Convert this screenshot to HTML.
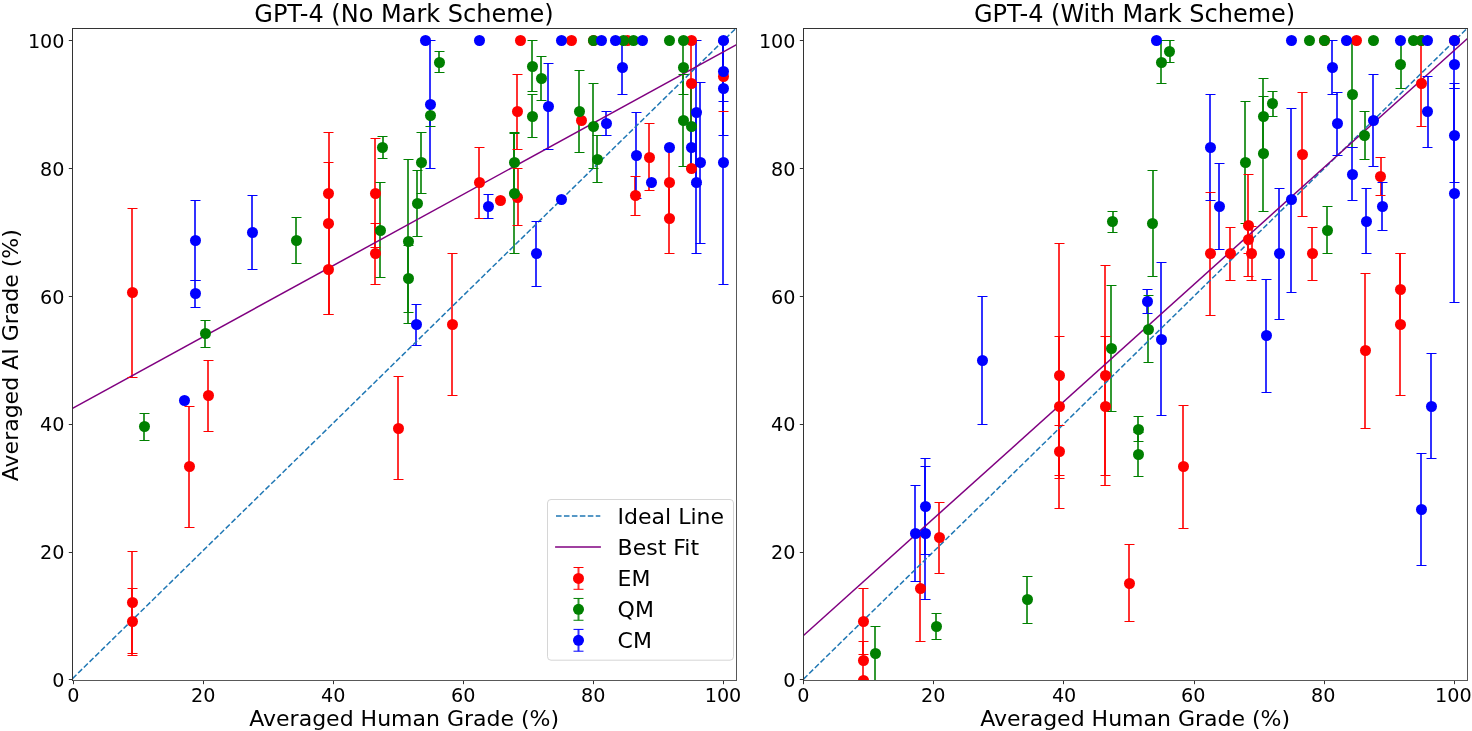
<!DOCTYPE html>
<html lang="en"><head><meta charset="utf-8"><title>GPT-4 grading comparison</title>
<style>html,body{margin:0;padding:0;background:#fff}body{width:1472px;height:731px;overflow:hidden}svg{display:block}</style>
</head><body>
<svg width="1472" height="731" viewBox="0 0 1472 731" font-family="'DejaVu Sans', 'Liberation Sans', sans-serif" fill="#000">
<rect width="1472" height="731" fill="#fff"/>
<clipPath id="clipL"><rect x="72.5" y="28.5" width="664" height="652"/></clipPath>
<g clip-path="url(#clipL)">
<g stroke="#ff0000" stroke-width="2" stroke-opacity="0.8" fill="none"><path d="M132 208V377"/><path d="M132 551V653"/><path d="M132 588V656"/><path d="M189 406V528"/><path d="M208 361V431"/><path d="M329 162V225"/><path d="M329 132V314"/><path d="M329 225V314"/><path d="M375 138V247"/><path d="M375 223V284"/><path d="M398 376V480"/><path d="M452 253V395"/><path d="M479 147V218"/><path d="M517 74V149"/><path d="M518 169V226"/><path d="M635 176V216"/><path d="M649 124V191"/><path d="M669 147V218"/><path d="M669 184V253"/><path d="M691 40V126"/><path d="M723 42V111"/></g>
<g stroke="#008000" stroke-width="2" stroke-opacity="0.8" fill="none"><path d="M144 413V441"/><path d="M205 320V348"/><path d="M296 217V263"/><path d="M380 183V278"/><path d="M383 136V158"/><path d="M408 159V323"/><path d="M408 245V312"/><path d="M417 170V236"/><path d="M421 132V193"/><path d="M430 105V126"/><path d="M439 52V73"/><path d="M514 132V192"/><path d="M514 133V253"/><path d="M532 40V92"/><path d="M532 95V138"/><path d="M541 57V100"/><path d="M579 71V152"/><path d="M593 83V169"/><path d="M597 136V183"/><path d="M683 40V94"/><path d="M683 74V166"/><path d="M691 83V169"/></g>
<g stroke="#0000ff" stroke-width="2" stroke-opacity="0.8" fill="none"><path d="M195 201V281"/><path d="M195 280V307"/><path d="M252 195V269"/><path d="M416 304V345"/><path d="M430 40V168"/><path d="M488 194V218"/><path d="M536 221V286"/><path d="M548 64V150"/><path d="M606 111V135"/><path d="M622 40V94"/><path d="M636 112V198"/><path d="M691 126V168"/><path d="M696 40V184"/><path d="M696 112V253"/><path d="M700 82V243"/><path d="M723 42V101"/><path d="M723 41V135"/><path d="M723 40V284"/></g>
<path d="M72.5 678.6L737 27.3" stroke="#1f77b4" stroke-width="1.5" stroke-dasharray="5.55 2.4" fill="none"/>
<path d="M72.5 408.4L736.6 44.6" stroke="#800080" stroke-width="1.5" fill="none"/>
<path d="M127.5 208.5h10M127.5 377.5h10M127.5 551.5h10M127.5 653.5h10M127.5 588.5h10M127.5 655.5h10M184.5 406.5h10M184.5 527.5h10M203.5 360.5h10M203.5 431.5h10M323.5 162.5h10M323.5 224.5h10M323.5 132.5h10M323.5 314.5h10M323.5 224.5h10M323.5 314.5h10M370.5 138.5h10M370.5 247.5h10M370.5 223.5h10M370.5 284.5h10M393.5 376.5h10M393.5 479.5h10M447.5 253.5h10M447.5 395.5h10M474.5 147.5h10M474.5 218.5h10M512.5 74.5h10M512.5 149.5h10M512.5 168.5h10M512.5 225.5h10M630.5 176.5h10M630.5 215.5h10M644.5 123.5h10M644.5 190.5h10M664.5 147.5h10M664.5 217.5h10M664.5 183.5h10M664.5 253.5h10M686.5 40.5h10M686.5 126.5h10M718.5 42.5h10M718.5 111.5h10" stroke="#ff0000" stroke-width="1" fill="none"/>
<path d="M139.5 413.5h10M139.5 440.5h10M200.5 320.5h10M200.5 347.5h10M291.5 217.5h10M291.5 263.5h10M375.5 182.5h10M375.5 277.5h10M377.5 136.5h10M377.5 158.5h10M403.5 159.5h10M403.5 323.5h10M403.5 245.5h10M403.5 312.5h10M412.5 170.5h10M412.5 236.5h10M416.5 132.5h10M416.5 193.5h10M425.5 104.5h10M425.5 126.5h10M434.5 51.5h10M434.5 72.5h10M509.5 132.5h10M509.5 192.5h10M509.5 133.5h10M509.5 253.5h10M527.5 40.5h10M527.5 91.5h10M527.5 94.5h10M527.5 137.5h10M536.5 56.5h10M536.5 100.5h10M574.5 70.5h10M574.5 152.5h10M588.5 83.5h10M588.5 168.5h10M592.5 135.5h10M592.5 182.5h10M678.5 40.5h10M678.5 94.5h10M678.5 74.5h10M678.5 166.5h10M686.5 83.5h10M686.5 169.5h10" stroke="#008000" stroke-width="1" fill="none"/>
<path d="M190.5 200.5h10M190.5 280.5h10M190.5 280.5h10M190.5 307.5h10M247.5 195.5h10M247.5 269.5h10M411.5 304.5h10M411.5 345.5h10M425.5 40.5h10M425.5 168.5h10M483.5 194.5h10M483.5 218.5h10M531.5 221.5h10M531.5 286.5h10M543.5 63.5h10M543.5 149.5h10M601.5 111.5h10M601.5 135.5h10M617.5 40.5h10M617.5 94.5h10M631.5 112.5h10M631.5 198.5h10M686.5 126.5h10M686.5 168.5h10M691.5 40.5h10M691.5 184.5h10M691.5 111.5h10M691.5 253.5h10M695.5 82.5h10M695.5 243.5h10M718.5 41.5h10M718.5 101.5h10M718.5 41.5h10M718.5 135.5h10M718.5 40.5h10M718.5 284.5h10" stroke="#0000ff" stroke-width="1" fill="none"/>
<g fill="#ff0000"><circle cx="132.5" cy="292.5" r="5.5"/><circle cx="132.5" cy="602.5" r="5.5"/><circle cx="132.5" cy="621.5" r="5.5"/><circle cx="189.5" cy="466.5" r="5.5"/><circle cx="208.5" cy="395.5" r="5.5"/><circle cx="328.5" cy="193.5" r="5.5"/><circle cx="328.5" cy="223.5" r="5.5"/><circle cx="328.5" cy="269.5" r="5.5"/><circle cx="375.5" cy="193.5" r="5.5"/><circle cx="375.5" cy="253.5" r="5.5"/><circle cx="398.5" cy="428.5" r="5.5"/><circle cx="452.5" cy="324.5" r="5.5"/><circle cx="479.5" cy="182.5" r="5.5"/><circle cx="500.5" cy="200.5" r="5.5"/><circle cx="517.5" cy="111.5" r="5.5"/><circle cx="517.5" cy="197.5" r="5.5"/><circle cx="520.5" cy="40.5" r="5.5"/><circle cx="571.5" cy="40.5" r="5.5"/><circle cx="581.5" cy="120.5" r="5.5"/><circle cx="593.5" cy="40.5" r="5.5"/><circle cx="627.5" cy="40.5" r="5.5"/><circle cx="635.5" cy="195.5" r="5.5"/><circle cx="649.5" cy="157.5" r="5.5"/><circle cx="669.5" cy="182.5" r="5.5"/><circle cx="669.5" cy="218.5" r="5.5"/><circle cx="691.5" cy="40.5" r="5.5"/><circle cx="691.5" cy="83.5" r="5.5"/><circle cx="691.5" cy="168.5" r="5.5"/><circle cx="723.5" cy="76.5" r="5.5"/></g>
<g fill="#008000"><circle cx="144.5" cy="426.5" r="5.5"/><circle cx="205.5" cy="333.5" r="5.5"/><circle cx="296.5" cy="240.5" r="5.5"/><circle cx="380.5" cy="230.5" r="5.5"/><circle cx="382.5" cy="147.5" r="5.5"/><circle cx="408.5" cy="241.5" r="5.5"/><circle cx="408.5" cy="278.5" r="5.5"/><circle cx="417.5" cy="203.5" r="5.5"/><circle cx="421.5" cy="162.5" r="5.5"/><circle cx="430.5" cy="115.5" r="5.5"/><circle cx="439.5" cy="62.5" r="5.5"/><circle cx="514.5" cy="162.5" r="5.5"/><circle cx="514.5" cy="193.5" r="5.5"/><circle cx="532.5" cy="66.5" r="5.5"/><circle cx="532.5" cy="116.5" r="5.5"/><circle cx="541.5" cy="78.5" r="5.5"/><circle cx="579.5" cy="111.5" r="5.5"/><circle cx="593.5" cy="126.5" r="5.5"/><circle cx="597.5" cy="159.5" r="5.5"/><circle cx="593.5" cy="40.5" r="5.5"/><circle cx="623.5" cy="40.5" r="5.5"/><circle cx="633.5" cy="40.5" r="5.5"/><circle cx="669.5" cy="40.5" r="5.5"/><circle cx="683.5" cy="40.5" r="5.5"/><circle cx="683.5" cy="67.5" r="5.5"/><circle cx="683.5" cy="120.5" r="5.5"/><circle cx="691.5" cy="126.5" r="5.5"/></g>
<g fill="#0000ff"><circle cx="184.5" cy="400.5" r="5.5"/><circle cx="195.5" cy="240.5" r="5.5"/><circle cx="195.5" cy="293.5" r="5.5"/><circle cx="252.5" cy="232.5" r="5.5"/><circle cx="416.5" cy="324.5" r="5.5"/><circle cx="425.5" cy="40.5" r="5.5"/><circle cx="430.5" cy="104.5" r="5.5"/><circle cx="479.5" cy="40.5" r="5.5"/><circle cx="488.5" cy="206.5" r="5.5"/><circle cx="536.5" cy="253.5" r="5.5"/><circle cx="548.5" cy="106.5" r="5.5"/><circle cx="561.5" cy="40.5" r="5.5"/><circle cx="561.5" cy="199.5" r="5.5"/><circle cx="601.5" cy="40.5" r="5.5"/><circle cx="606.5" cy="123.5" r="5.5"/><circle cx="615.5" cy="40.5" r="5.5"/><circle cx="622.5" cy="67.5" r="5.5"/><circle cx="636.5" cy="155.5" r="5.5"/><circle cx="642.5" cy="40.5" r="5.5"/><circle cx="651.5" cy="182.5" r="5.5"/><circle cx="669.5" cy="147.5" r="5.5"/><circle cx="691.5" cy="147.5" r="5.5"/><circle cx="696.5" cy="112.5" r="5.5"/><circle cx="696.5" cy="182.5" r="5.5"/><circle cx="700.5" cy="162.5" r="5.5"/><circle cx="723.5" cy="40.5" r="5.5"/><circle cx="723.5" cy="71.5" r="5.5"/><circle cx="723.5" cy="88.5" r="5.5"/><circle cx="723.5" cy="162.5" r="5.5"/></g>
</g>
<path d="M73.5 680.5v3.7M72.5 679.5h-3.7M203.5 680.5v3.7M72.5 552.5h-3.7M333.5 680.5v3.7M72.5 424.5h-3.7M463.5 680.5v3.7M72.5 296.5h-3.7M593.5 680.5v3.7M72.5 168.5h-3.7M723.5 680.5v3.7M72.5 40.5h-3.7" stroke="#333" stroke-width="1" fill="none"/>
<path d="M72.5 28V681M72 28.5H737" stroke="#333" stroke-width="1" fill="none"/>
<path d="M736.5 29V681M73 680.5H737" stroke="#585858" stroke-width="1" fill="none"/>
<text x="73.3" y="702" text-anchor="middle" font-size="19.2">0</text>
<text x="64.5" y="687.05" text-anchor="end" font-size="19.2">0</text>
<text x="203.3" y="702" text-anchor="middle" font-size="19.2">20</text>
<text x="64.5" y="559" text-anchor="end" font-size="19.2">20</text>
<text x="333.3" y="702" text-anchor="middle" font-size="19.2">40</text>
<text x="64.5" y="431" text-anchor="end" font-size="19.2">40</text>
<text x="463.3" y="702" text-anchor="middle" font-size="19.2">60</text>
<text x="64.5" y="304.05" text-anchor="end" font-size="19.2">60</text>
<text x="593.3" y="702" text-anchor="middle" font-size="19.2">80</text>
<text x="64.5" y="176.1" text-anchor="end" font-size="19.2">80</text>
<text x="723" y="702" text-anchor="middle" font-size="19.2">100</text>
<text x="64.5" y="48.1" text-anchor="end" font-size="19.2">100</text>
<text x="404" y="22" text-anchor="middle" font-size="24">GPT-4 (No Mark Scheme)</text>
<text x="404.2" y="726" text-anchor="middle" font-size="22">Averaged Human Grade (%)</text>
<rect x="547.5" y="499.5" width="186.0" height="160.7" rx="3.5" ry="3.5" fill="#fff" fill-opacity="0.8" stroke="#ccc" stroke-opacity="0.8" stroke-width="1"/>
<path d="M556 516h44.3" stroke="#1f77b4" stroke-width="1.5" stroke-dasharray="5.55 2.4" fill="none"/>
<path d="M555.1 546.9h45.8" stroke="#800080" stroke-width="1.5" fill="none"/>
<path d="M578.5 567.5V589.3" stroke="#ff0000" stroke-width="2" stroke-opacity="0.8" fill="none"/>
<circle cx="578.5" cy="578.4" r="5.5" fill="#ff0000"/>
<path d="M573.5 567.5h10M573.5 589.3h10" stroke="#ff0000" stroke-width="1" fill="none"/>
<text x="617.6" y="586.0" font-size="22">EM</text>
<path d="M578.5 598.45V620.25" stroke="#008000" stroke-width="2" stroke-opacity="0.8" fill="none"/>
<circle cx="578.5" cy="609.35" r="5.5" fill="#008000"/>
<path d="M573.5 598.45h10M573.5 620.25h10" stroke="#008000" stroke-width="1" fill="none"/>
<text x="617.6" y="617.0" font-size="22">QM</text>
<path d="M578.5 629.4V651.1999999999999" stroke="#0000ff" stroke-width="2" stroke-opacity="0.8" fill="none"/>
<circle cx="578.5" cy="640.3" r="5.5" fill="#0000ff"/>
<path d="M573.5 629.4h10M573.5 651.1999999999999h10" stroke="#0000ff" stroke-width="1" fill="none"/>
<text x="617.6" y="647.9" font-size="22">CM</text>
<text x="617.6" y="524.1" font-size="22">Ideal Line</text>
<text x="617.6" y="554.6" font-size="22">Best Fit</text>
<clipPath id="clipR"><rect x="803.5" y="28.5" width="664" height="652"/></clipPath>
<g clip-path="url(#clipR)">
<g stroke="#ff0000" stroke-width="2" stroke-opacity="0.8" fill="none"><path d="M863 588V655"/><path d="M863 641V679"/><path d="M920 535V641"/><path d="M939 503V573"/><path d="M1059 243V509"/><path d="M1059 336V476"/><path d="M1059 425V478"/><path d="M1105 266V485"/><path d="M1105 336V475"/><path d="M1129 545V621"/><path d="M1183 405V528"/><path d="M1210 193V316"/><path d="M1230 227V280"/><path d="M1248 174V276"/><path d="M1248 225V253"/><path d="M1252 227V280"/><path d="M1302 93V216"/><path d="M1312 227V280"/><path d="M1365 273V428"/><path d="M1381 157V195"/><path d="M1400 253V325"/><path d="M1400 254V395"/><path d="M1421 41V126"/></g>
<g stroke="#008000" stroke-width="2" stroke-opacity="0.8" fill="none"><path d="M875 626V680"/><path d="M936 613V639"/><path d="M1027 576V623"/><path d="M1111 285V411"/><path d="M1113 211V232"/><path d="M1138 416V441"/><path d="M1138 432V476"/><path d="M1148 295V362"/><path d="M1153 170V276"/><path d="M1161 41V84"/><path d="M1170 40V62"/><path d="M1245 102V223"/><path d="M1263 78V155"/><path d="M1263 96V211"/><path d="M1273 91V116"/><path d="M1327 207V253"/><path d="M1352 41V148"/><path d="M1365 111V159"/><path d="M1401 40V89"/></g>
<g stroke="#0000ff" stroke-width="2" stroke-opacity="0.8" fill="none"><path d="M915 485V581"/><path d="M925 458V554"/><path d="M925 466V600"/><path d="M982 296V424"/><path d="M1147 290V313"/><path d="M1161 263V415"/><path d="M1210 95V200"/><path d="M1219 163V249"/><path d="M1266 279V392"/><path d="M1279 189V320"/><path d="M1291 108V293"/><path d="M1332 41V95"/><path d="M1337 92V155"/><path d="M1352 147V200"/><path d="M1366 189V253"/><path d="M1373 74V166"/><path d="M1382 182V230"/><path d="M1421 453V565"/><path d="M1428 77V147"/><path d="M1431 353V459"/><path d="M1454 40V88"/><path d="M1454 88V182"/><path d="M1454 84V302"/></g>
<path d="M803.5 679.1L1468 27.5" stroke="#1f77b4" stroke-width="1.5" stroke-dasharray="5.55 2.4" fill="none"/>
<path d="M803.5 635.5L1467.5 38.5" stroke="#800080" stroke-width="1.5" fill="none"/>
<path d="M858.5 588.5h10M858.5 654.5h10M858.5 641.5h10M858.5 679.5h10M915.5 535.5h10M915.5 641.5h10M934.5 502.5h10M934.5 573.5h10M1054.5 243.5h10M1054.5 508.5h10M1054.5 336.5h10M1054.5 475.5h10M1054.5 425.5h10M1054.5 478.5h10M1100.5 265.5h10M1100.5 485.5h10M1100.5 336.5h10M1100.5 475.5h10M1124.5 544.5h10M1124.5 621.5h10M1178.5 405.5h10M1178.5 528.5h10M1205.5 192.5h10M1205.5 315.5h10M1225.5 227.5h10M1225.5 280.5h10M1243.5 174.5h10M1243.5 276.5h10M1243.5 225.5h10M1243.5 253.5h10M1246.5 226.5h10M1246.5 280.5h10M1297.5 92.5h10M1297.5 216.5h10M1307.5 227.5h10M1307.5 280.5h10M1360.5 273.5h10M1360.5 428.5h10M1375.5 157.5h10M1375.5 195.5h10M1395.5 253.5h10M1395.5 325.5h10M1395.5 253.5h10M1395.5 395.5h10M1416.5 40.5h10M1416.5 126.5h10" stroke="#ff0000" stroke-width="1" fill="none"/>
<path d="M870.5 626.5h10M870.5 680.5h10M931.5 613.5h10M931.5 639.5h10M1022.5 576.5h10M1022.5 623.5h10M1106.5 285.5h10M1106.5 411.5h10M1107.5 211.5h10M1107.5 232.5h10M1133.5 416.5h10M1133.5 441.5h10M1133.5 432.5h10M1133.5 476.5h10M1143.5 295.5h10M1143.5 362.5h10M1147.5 170.5h10M1147.5 276.5h10M1156.5 40.5h10M1156.5 83.5h10M1164.5 40.5h10M1164.5 62.5h10M1240.5 101.5h10M1240.5 223.5h10M1258.5 78.5h10M1258.5 154.5h10M1258.5 96.5h10M1258.5 211.5h10M1267.5 91.5h10M1267.5 116.5h10M1322.5 206.5h10M1322.5 253.5h10M1347.5 40.5h10M1347.5 147.5h10M1359.5 111.5h10M1359.5 159.5h10M1395.5 40.5h10M1395.5 88.5h10" stroke="#008000" stroke-width="1" fill="none"/>
<path d="M910.5 485.5h10M910.5 581.5h10M920.5 458.5h10M920.5 554.5h10M920.5 466.5h10M920.5 599.5h10M977.5 296.5h10M977.5 424.5h10M1142.5 289.5h10M1142.5 313.5h10M1156.5 262.5h10M1156.5 415.5h10M1205.5 94.5h10M1205.5 200.5h10M1214.5 163.5h10M1214.5 249.5h10M1261.5 279.5h10M1261.5 392.5h10M1274.5 188.5h10M1274.5 319.5h10M1286.5 108.5h10M1286.5 292.5h10M1327.5 40.5h10M1327.5 94.5h10M1332.5 92.5h10M1332.5 155.5h10M1347.5 147.5h10M1347.5 200.5h10M1361.5 188.5h10M1361.5 253.5h10M1368.5 74.5h10M1368.5 166.5h10M1377.5 182.5h10M1377.5 230.5h10M1416.5 453.5h10M1416.5 565.5h10M1422.5 76.5h10M1422.5 147.5h10M1426.5 353.5h10M1426.5 458.5h10M1449.5 40.5h10M1449.5 88.5h10M1449.5 88.5h10M1449.5 182.5h10M1449.5 83.5h10M1449.5 302.5h10" stroke="#0000ff" stroke-width="1" fill="none"/>
<g fill="#ff0000"><circle cx="863.5" cy="621.5" r="5.5"/><circle cx="863.5" cy="660.5" r="5.5"/><circle cx="863.5" cy="680.5" r="5.5"/><circle cx="920.5" cy="588.5" r="5.5"/><circle cx="939.5" cy="537.5" r="5.5"/><circle cx="1059.5" cy="375.5" r="5.5"/><circle cx="1059.5" cy="406.5" r="5.5"/><circle cx="1059.5" cy="451.5" r="5.5"/><circle cx="1105.5" cy="375.5" r="5.5"/><circle cx="1105.5" cy="406.5" r="5.5"/><circle cx="1129.5" cy="583.5" r="5.5"/><circle cx="1183.5" cy="466.5" r="5.5"/><circle cx="1210.5" cy="253.5" r="5.5"/><circle cx="1230.5" cy="253.5" r="5.5"/><circle cx="1248.5" cy="225.5" r="5.5"/><circle cx="1248.5" cy="239.5" r="5.5"/><circle cx="1251.5" cy="253.5" r="5.5"/><circle cx="1302.5" cy="154.5" r="5.5"/><circle cx="1312.5" cy="253.5" r="5.5"/><circle cx="1324.5" cy="40.5" r="5.5"/><circle cx="1356.5" cy="40.5" r="5.5"/><circle cx="1365.5" cy="350.5" r="5.5"/><circle cx="1380.5" cy="176.5" r="5.5"/><circle cx="1400.5" cy="289.5" r="5.5"/><circle cx="1400.5" cy="324.5" r="5.5"/><circle cx="1421.5" cy="40.5" r="5.5"/><circle cx="1421.5" cy="83.5" r="5.5"/><circle cx="1454.5" cy="40.5" r="5.5"/></g>
<g fill="#008000"><circle cx="875.5" cy="653.5" r="5.5"/><circle cx="936.5" cy="626.5" r="5.5"/><circle cx="1027.5" cy="599.5" r="5.5"/><circle cx="1111.5" cy="348.5" r="5.5"/><circle cx="1112.5" cy="221.5" r="5.5"/><circle cx="1138.5" cy="429.5" r="5.5"/><circle cx="1138.5" cy="454.5" r="5.5"/><circle cx="1148.5" cy="329.5" r="5.5"/><circle cx="1152.5" cy="223.5" r="5.5"/><circle cx="1161.5" cy="62.5" r="5.5"/><circle cx="1169.5" cy="51.5" r="5.5"/><circle cx="1245.5" cy="162.5" r="5.5"/><circle cx="1263.5" cy="116.5" r="5.5"/><circle cx="1263.5" cy="153.5" r="5.5"/><circle cx="1272.5" cy="103.5" r="5.5"/><circle cx="1309.5" cy="40.5" r="5.5"/><circle cx="1324.5" cy="40.5" r="5.5"/><circle cx="1327.5" cy="230.5" r="5.5"/><circle cx="1352.5" cy="94.5" r="5.5"/><circle cx="1364.5" cy="135.5" r="5.5"/><circle cx="1373.5" cy="40.5" r="5.5"/><circle cx="1400.5" cy="64.5" r="5.5"/><circle cx="1413.5" cy="40.5" r="5.5"/><circle cx="1421.5" cy="40.5" r="5.5"/></g>
<g fill="#0000ff"><circle cx="915.5" cy="533.5" r="5.5"/><circle cx="925.5" cy="506.5" r="5.5"/><circle cx="925.5" cy="533.5" r="5.5"/><circle cx="982.5" cy="360.5" r="5.5"/><circle cx="1147.5" cy="301.5" r="5.5"/><circle cx="1156.5" cy="40.5" r="5.5"/><circle cx="1161.5" cy="339.5" r="5.5"/><circle cx="1210.5" cy="147.5" r="5.5"/><circle cx="1219.5" cy="206.5" r="5.5"/><circle cx="1266.5" cy="335.5" r="5.5"/><circle cx="1279.5" cy="253.5" r="5.5"/><circle cx="1291.5" cy="199.5" r="5.5"/><circle cx="1291.5" cy="40.5" r="5.5"/><circle cx="1332.5" cy="67.5" r="5.5"/><circle cx="1337.5" cy="123.5" r="5.5"/><circle cx="1346.5" cy="40.5" r="5.5"/><circle cx="1352.5" cy="174.5" r="5.5"/><circle cx="1366.5" cy="221.5" r="5.5"/><circle cx="1373.5" cy="120.5" r="5.5"/><circle cx="1382.5" cy="206.5" r="5.5"/><circle cx="1400.5" cy="40.5" r="5.5"/><circle cx="1421.5" cy="509.5" r="5.5"/><circle cx="1427.5" cy="111.5" r="5.5"/><circle cx="1427.5" cy="40.5" r="5.5"/><circle cx="1431.5" cy="406.5" r="5.5"/><circle cx="1454.5" cy="40.5" r="5.5"/><circle cx="1454.5" cy="64.5" r="5.5"/><circle cx="1454.5" cy="135.5" r="5.5"/><circle cx="1454.5" cy="193.5" r="5.5"/></g>
</g>
<path d="M803.5 680.5v3.7M803.5 679.5h-3.7M933.5 680.5v3.7M803.5 552.5h-3.7M1063.5 680.5v3.7M803.5 424.5h-3.7M1194.5 680.5v3.7M803.5 296.5h-3.7M1324.5 680.5v3.7M803.5 168.5h-3.7M1454.5 680.5v3.7M803.5 40.5h-3.7" stroke="#333" stroke-width="1" fill="none"/>
<path d="M803.5 28V681M803 28.5H1468" stroke="#333" stroke-width="1" fill="none"/>
<path d="M1467.5 29V681M804 680.5H1468" stroke="#585858" stroke-width="1" fill="none"/>
<text x="803.3" y="702" text-anchor="middle" font-size="19.2">0</text>
<text x="795.5" y="687.05" text-anchor="end" font-size="19.2">0</text>
<text x="933.3" y="702" text-anchor="middle" font-size="19.2">20</text>
<text x="795.5" y="559" text-anchor="end" font-size="19.2">20</text>
<text x="1064.1" y="702" text-anchor="middle" font-size="19.2">40</text>
<text x="795.5" y="431" text-anchor="end" font-size="19.2">40</text>
<text x="1193.3" y="702" text-anchor="middle" font-size="19.2">60</text>
<text x="795.5" y="304.05" text-anchor="end" font-size="19.2">60</text>
<text x="1323.3" y="702" text-anchor="middle" font-size="19.2">80</text>
<text x="795.5" y="176.1" text-anchor="end" font-size="19.2">80</text>
<text x="1453.4" y="702" text-anchor="middle" font-size="19.2">100</text>
<text x="795.5" y="48.1" text-anchor="end" font-size="19.2">100</text>
<text x="1134.6" y="22" text-anchor="middle" font-size="24">GPT-4 (With Mark Scheme)</text>
<text x="1135.2" y="726" text-anchor="middle" font-size="22">Averaged Human Grade (%)</text>
<text transform="translate(18.0 355.2) rotate(-90)" text-anchor="middle" font-size="22">Averaged AI Grade (%)</text>
</svg>
</body></html>
